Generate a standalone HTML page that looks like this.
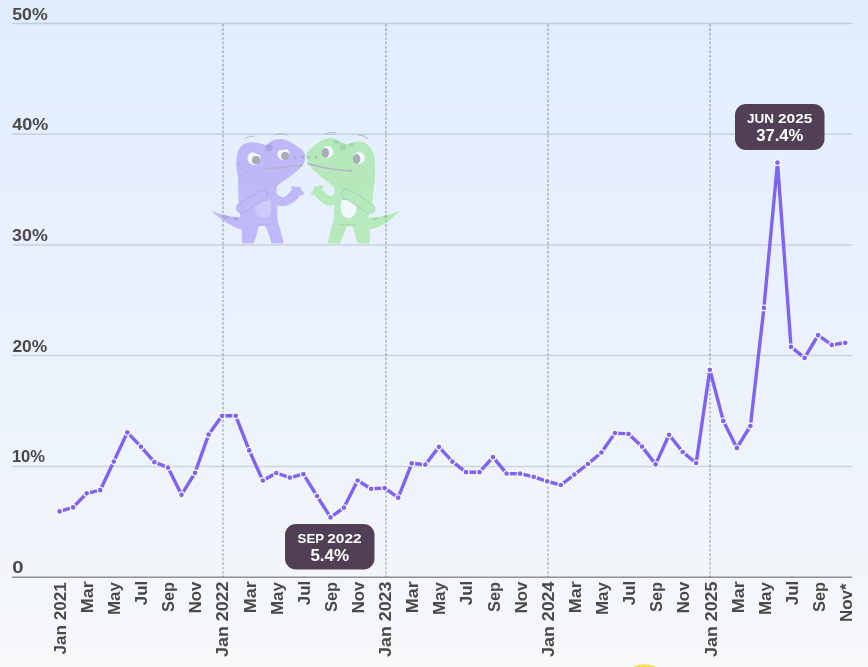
<!DOCTYPE html>
<html lang="en">
<head>
<meta charset="utf-8">
<title>Chart</title>
<style>
html,body{margin:0;padding:0;}
body{width:868px;height:667px;overflow:hidden;background:#f7f8fb;font-family:"Liberation Sans",sans-serif;}
svg{display:block;}
text{font-family:"Liberation Sans",sans-serif;font-weight:700;}
</style>
</head>
<body>
<svg width="868" height="667" viewBox="0 0 868 667">
<g shape-rendering="crispEdges">
<rect x="0" y="0" width="868" height="15" fill="#e0edfd"/>
<rect x="0" y="15" width="868" height="23" fill="#e1edfd"/>
<rect x="0" y="38" width="868" height="7" fill="#e1eefd"/>
<rect x="0" y="45" width="868" height="30" fill="#e2eefd"/>
<rect x="0" y="75" width="868" height="30" fill="#e3eefd"/>
<rect x="0" y="105" width="868" height="8" fill="#e4eefd"/>
<rect x="0" y="113" width="868" height="22" fill="#e4effd"/>
<rect x="0" y="135" width="868" height="30" fill="#e5effd"/>
<rect x="0" y="165" width="868" height="23" fill="#e6effd"/>
<rect x="0" y="188" width="868" height="7" fill="#e6f0fd"/>
<rect x="0" y="195" width="868" height="30" fill="#e7f0fd"/>
<rect x="0" y="225" width="868" height="30" fill="#e8f0fd"/>
<rect x="0" y="255" width="868" height="8" fill="#e9f0fd"/>
<rect x="0" y="263" width="868" height="22" fill="#e9f1fd"/>
<rect x="0" y="285" width="868" height="34" fill="#eaf1fd"/>
<rect x="0" y="319" width="868" height="9" fill="#ebf1fd"/>
<rect x="0" y="328" width="868" height="29" fill="#ebf2fd"/>
<rect x="0" y="357" width="868" height="28" fill="#ecf2fc"/>
<rect x="0" y="385" width="868" height="10" fill="#ecf3fc"/>
<rect x="0" y="395" width="868" height="37" fill="#edf3fc"/>
<rect x="0" y="432" width="868" height="10" fill="#eef3fc"/>
<rect x="0" y="442" width="868" height="28" fill="#eef4fc"/>
<rect x="0" y="470" width="868" height="29" fill="#eff4fb"/>
<rect x="0" y="499" width="868" height="9" fill="#eff5fb"/>
<rect x="0" y="508" width="868" height="29" fill="#f0f5fb"/>
<rect x="0" y="537" width="868" height="13" fill="#f1f5fb"/>
<rect x="0" y="550" width="868" height="7" fill="#f1f6fb"/>
<rect x="0" y="557" width="868" height="20" fill="#f2f6fb"/>
<rect x="0" y="577" width="868" height="20" fill="#f3f6fb"/>
<rect x="0" y="597" width="868" height="20" fill="#f4f7fa"/>
<rect x="0" y="617" width="868" height="20" fill="#f5f7fa"/>
<rect x="0" y="637" width="868" height="7" fill="#f6f7fa"/>
<rect x="0" y="644" width="868" height="13" fill="#f6f8fa"/>
<rect x="0" y="657" width="868" height="10" fill="#f7f8fa"/>
</g>
<circle cx="644.3" cy="690.2" r="26" fill="#f9e04c"/>
<g stroke="#000000" stroke-opacity="0.13" stroke-width="1.5">
<line x1="12" y1="23.5" x2="852.2" y2="23.5"/>
<line x1="12" y1="134.3" x2="852.2" y2="134.3"/>
<line x1="12" y1="245.1" x2="852.2" y2="245.1"/>
<line x1="12" y1="355.5" x2="852.2" y2="355.5"/>
<line x1="12" y1="466.4" x2="852.2" y2="466.4"/>
<line x1="12" y1="577.3" x2="852.2" y2="577.3" stroke-opacity="0.42"/>
</g>
<g stroke="#000000" stroke-opacity="0.19" stroke-width="2.1" stroke-dasharray="2.65 1.8">
<line x1="223.0" y1="23.8" x2="223.0" y2="577"/>
<line x1="386.0" y1="23.8" x2="386.0" y2="577"/>
<line x1="548.0" y1="23.8" x2="548.0" y2="577"/>
<line x1="710.0" y1="23.8" x2="710.0" y2="577"/>
</g>
<g fill="#4a4848" font-size="16.4">
<text x="12.2" y="19.5" textLength="35.45" lengthAdjust="spacingAndGlyphs">50%</text>
<text x="12.2" y="130.3" textLength="36.0" lengthAdjust="spacingAndGlyphs">40%</text>
<text x="12.1" y="241.1" textLength="35.65" lengthAdjust="spacingAndGlyphs">30%</text>
<text x="12.4" y="351.5" textLength="34.8" lengthAdjust="spacingAndGlyphs">20%</text>
<text x="11.9" y="462.4" textLength="33.15" lengthAdjust="spacingAndGlyphs">10%</text>
<text x="12.15" y="573.3" textLength="11.3" lengthAdjust="spacingAndGlyphs">0</text>
</g>
<filter id="gkblur" x="-5%" y="-5%" width="110%" height="110%"><feGaussianBlur stdDeviation="0.35"/></filter>
<g opacity="0.5" filter="url(#gkblur)">
<!-- purple gecko -->
<g id="gk-purple">
<clipPath id="cpp"><path d="M236.3,165 C235.8,152 239.5,143.5 250,142.3 C256,141.8 262,144.5 266.5,145.2 C269.5,142 274,139 280,139 C287,139 294,144 301,149 C305,152 306,157 304.5,161.5 C302,169 292,175 279,184.5 C277,186 276.5,187.5 276.6,189 L276.6,193.3 C279,196.5 282,197.8 284.5,196.8 C287.5,195 290,191.5 292.4,189.5 L300,195.8 C297,200 292.5,203.5 287,205.5 C283,206.5 280,206 277.2,205.3 L277.2,219.3 C279,226 282,234 283.6,243.6 L271.5,243.6 C270,237 267.5,230.5 264.6,225.6 L258.9,226.3 C257.5,232 255.5,238 253.8,243.6 L242.4,243.6 C241.8,239 241.6,234 241.8,229.4 C234,228 224,222 211.3,211 C220,214.5 232,217 240.5,217.5 C238.8,208 238,195 238.2,180 C237.5,175 236.6,170 236.3,165 Z"/></clipPath><path fill="#9883f7" d="M236.3,165 C235.8,152 239.5,143.5 250,142.3 C256,141.8 262,144.5 266.5,145.2 C269.5,142 274,139 280,139 C287,139 294,144 301,149 C305,152 306,157 304.5,161.5 C302,169 292,175 279,184.5 C277,186 276.5,187.5 276.6,189 L276.6,193.3 C279,196.5 282,197.8 284.5,196.8 C287.5,195 290,191.5 292.4,189.5 L300,195.8 C297,200 292.5,203.5 287,205.5 C283,206.5 280,206 277.2,205.3 L277.2,219.3 C279,226 282,234 283.6,243.6 L271.5,243.6 C270,237 267.5,230.5 264.6,225.6 L258.9,226.3 C257.5,232 255.5,238 253.8,243.6 L242.4,243.6 C241.8,239 241.6,234 241.8,229.4 C234,228 224,222 211.3,211 C220,214.5 232,217 240.5,217.5 C238.8,208 238,195 238.2,180 C237.5,175 236.6,170 236.3,165 Z"/>
<circle cx="296.9" cy="191.6" r="4.7" fill="#9883f7"/>
<circle cx="293.3" cy="188" r="2.1" fill="#9883f7"/>
<circle cx="298.9" cy="188.6" r="2.1" fill="#9883f7"/>
<circle cx="301.7" cy="193.2" r="2.1" fill="#9883f7"/>
<rect x="255" y="195.5" width="16.3" height="22.6" rx="8" ry="9" fill="#b9a7fa"/>
<path d="M257,224.6 Q263,226 271,224.2" fill="none" stroke="#7163cc" stroke-width="0.8"/>
<g stroke="#7163cc" fill="#7163cc"><line x1="241.4" y1="208" x2="262.4" y2="195.3" stroke-width="10.4" stroke-linecap="round"/><circle cx="265.6" cy="191.6" r="2.3" stroke="none"/><circle cx="267.1" cy="195" r="2.3" stroke="none"/><circle cx="265.7" cy="198.6" r="2.3" stroke="none"/></g>
<g stroke="#9883f7" fill="#9883f7"><line x1="241.4" y1="208" x2="262.4" y2="195.3" stroke-width="9" stroke-linecap="round"/><circle cx="265.6" cy="191.6" r="1.6" stroke="none"/><circle cx="267.1" cy="195" r="1.6" stroke="none"/><circle cx="265.7" cy="198.6" r="1.6" stroke="none"/></g>
<g clip-path="url(#cpp)"><circle cx="226" cy="216.6" r="2.6" fill="#6a62d0"/><circle cx="236" cy="218" r="2.6" fill="#6a62d0"/><circle cx="269.1" cy="147.7" r="3.5" fill="#6a62d0"/><path d="M261,144.4 Q267,147.6 275,141" stroke="#6a62d0" stroke-width="0.9" fill="none" stroke-opacity="0.7"/></g>
<clipPath id="cpe1"><polygon points="240,148.6 266,156.4 266,170 240,170"/></clipPath><circle cx="254" cy="158.4" r="6.5" fill="#ffffff" clip-path="url(#cpe1)"/>
<circle cx="256" cy="160.2" r="4.1" fill="#6d6870"/>
<clipPath id="cpe2"><polygon points="272,151.39 296,147.69 296,166 272,166"/></clipPath><circle cx="283.4" cy="154" r="6.1" fill="#ffffff" clip-path="url(#cpe2)"/>
<circle cx="285.1" cy="155.9" r="4" fill="#6d6870"/>
<circle cx="295.5" cy="157.7" r="1.2" fill="#6a5aa8"/>
<circle cx="302.6" cy="157.4" r="1.2" fill="#6a5aa8"/>
<path d="M263,168.9 L302.1,165.4" stroke="#85789c" stroke-width="1.7" stroke-linecap="round" fill="none"/>
<path d="M244.4,139.7 Q247.5,136 253.3,136.4" fill="none" stroke="#8878e8" stroke-width="0.9" stroke-linecap="round"/>
<path d="M275.9,134.8 Q281.1,131.6 286.9,135.1" fill="none" stroke="#8878e8" stroke-width="0.9" stroke-linecap="round"/>
<path d="M237.6,161.6 l1.6,3.1 M240.2,166.3 l1.6,3.1 M244.4,171 l1.1,2.6" fill="none" stroke="#6a74d8" stroke-width="1.2" stroke-linecap="round"/>
</g>
<!-- green gecko -->
<g id="gk-green">
<clipPath id="cpg"><path d="M306.3,157 C306.3,152.5 309,149.5 314,146 C319,142 324,138.3 330.4,138 C336,138 341,143 346.2,144.3 C350,144 354,141.3 359.8,141.5 C367,142 373,149 374.8,158 C375.6,165 375.2,172 374.8,178 L372.5,200 C371.5,208 369.5,214 367.8,218 C376,218 388,215.5 399.9,211 C391,221 380,227.5 369.7,229.4 C370,234 369.8,239 369.4,243.6 L357.7,243.6 C356,238 354,232 352.6,226.3 L346.9,226.3 C344.5,232 342,238 339.9,243.6 L327.9,243.6 C329,236 331.5,227 334,219.3 L334.5,204.7 C331,206.3 327.5,206 324.1,204.1 C320,201.5 317,198.5 315.2,195.8 L323.4,190.1 C325,192.5 327.5,195.5 330.4,196.5 C332.5,196 333.8,194 334.8,192 L334.7,188 C332,185 322,178 315,171.5 C310,167 306.5,162 306.3,157 Z"/></clipPath><path fill="#87e37c" d="M306.3,157 C306.3,152.5 309,149.5 314,146 C319,142 324,138.3 330.4,138 C336,138 341,143 346.2,144.3 C350,144 354,141.3 359.8,141.5 C367,142 373,149 374.8,158 C375.6,165 375.2,172 374.8,178 L372.5,200 C371.5,208 369.5,214 367.8,218 C376,218 388,215.5 399.9,211 C391,221 380,227.5 369.7,229.4 C370,234 369.8,239 369.4,243.6 L357.7,243.6 C356,238 354,232 352.6,226.3 L346.9,226.3 C344.5,232 342,238 339.9,243.6 L327.9,243.6 C329,236 331.5,227 334,219.3 L334.5,204.7 C331,206.3 327.5,206 324.1,204.1 C320,201.5 317,198.5 315.2,195.8 L323.4,190.1 C325,192.5 327.5,195.5 330.4,196.5 C332.5,196 333.8,194 334.8,192 L334.7,188 C332,185 322,178 315,171.5 C310,167 306.5,162 306.3,157 Z"/>
<circle cx="317.7" cy="191" r="4.7" fill="#87e37c"/>
<circle cx="315.8" cy="188" r="2.1" fill="#87e37c"/>
<circle cx="321.3" cy="187.2" r="2.1" fill="#87e37c"/>
<circle cx="313.3" cy="193.3" r="2.1" fill="#87e37c"/>
<rect x="340.7" y="196" width="15.8" height="22.1" rx="7.8" ry="9" fill="#ffffff"/>
<path d="M340.5,224.2 Q347,226 354.5,224.6" fill="none" stroke="#5dad62" stroke-width="0.8"/>
<g stroke="#5dad62" fill="#5dad62"><line x1="347.6" y1="194.4" x2="370" y2="208.4" stroke-width="10.4" stroke-linecap="round"/><circle cx="344.5" cy="190.6" r="2.3" stroke="none"/><circle cx="343" cy="194.2" r="2.3" stroke="none"/><circle cx="344.8" cy="197.9" r="2.3" stroke="none"/></g>
<g stroke="#87e37c" fill="#87e37c"><line x1="347.6" y1="194.4" x2="370" y2="208.4" stroke-width="9" stroke-linecap="round"/><circle cx="344.5" cy="190.6" r="1.6" stroke="none"/><circle cx="343" cy="194.2" r="1.6" stroke="none"/><circle cx="344.8" cy="197.9" r="1.6" stroke="none"/></g>
<g clip-path="url(#cpg)"><circle cx="374.8" cy="217.6" r="2.8" fill="#66c268"/><circle cx="385.2" cy="215.6" r="2.6" fill="#66c268"/><circle cx="336.7" cy="141.2" r="3" fill="#66c268"/><circle cx="343" cy="146.9" r="3.8" fill="#66c268"/><circle cx="350.9" cy="143.6" r="3" fill="#66c268"/></g>
<circle cx="327.5" cy="151.9" r="5.8" fill="#ffffff"/>
<ellipse cx="325.3" cy="152.8" rx="3.7" ry="4.9" fill="#6d6a74"/>
<circle cx="359" cy="157.9" r="5.9" fill="#ffffff"/>
<ellipse cx="356.6" cy="158.9" rx="3.7" ry="4.9" fill="#6d6a74"/>
<circle cx="308.9" cy="157.2" r="1.2" fill="#4f8f58"/>
<circle cx="315.9" cy="157.4" r="1.2" fill="#4f8f58"/>
<path d="M308.2,163.7 Q326.2,169.2 351.4,171" stroke="#80798c" stroke-width="1.7" stroke-linecap="round" fill="none"/>
<circle cx="351.3" cy="170.7" r="1.3" fill="#80798c"/>
<path d="M325.2,133.8 Q330.4,130.8 335.7,133" fill="none" stroke="#6f7380" stroke-width="0.9" stroke-linecap="round"/>
<path d="M358.5,135.1 Q364.5,135 367.7,138.5" fill="none" stroke="#6f7380" stroke-width="0.9" stroke-linecap="round"/>
</g>
</g>

<polyline points="59.6,511.4 73.1,507.4 86.7,493.3 100.2,490.2 113.8,461.6 127.3,432.4 140.9,446.7 154.4,462.2 168.0,467.6 181.5,494.8 195.0,472.8 208.6,434.6 222.1,415.8 235.7,415.8 249.2,450.4 262.8,480.5 276.3,473.0 289.9,477.6 303.4,474.2 317.0,496.0 330.5,517.4 344.0,507.6 357.6,480.5 371.1,488.8 384.7,488.1 398.2,497.7 411.8,463.3 425.3,464.7 438.9,446.9 452.4,461.6 466.0,472.2 479.5,472.2 493.0,457.2 506.6,473.6 520.1,473.7 533.7,476.8 547.2,481.3 560.8,485.0 574.3,474.6 587.9,464.0 601.4,452.5 614.9,433.1 628.5,433.9 642.0,446.6 655.6,464.4 669.1,434.8 682.7,452.0 696.2,463.1 709.8,369.8 723.3,420.9 736.9,447.9 750.4,426.0 763.9,307.9 777.5,162.6 791.0,346.9 804.6,357.9 818.1,335.2 831.7,344.9 845.2,342.8" fill="none" stroke="#8063f1" stroke-width="3.4" stroke-linejoin="round" stroke-linecap="round"/>
<g fill="#8063f1" stroke="#ffffff" stroke-width="1.1">
<circle cx="59.6" cy="511.4" r="2.9"/>
<circle cx="73.1" cy="507.4" r="2.9"/>
<circle cx="86.7" cy="493.3" r="2.9"/>
<circle cx="100.2" cy="490.2" r="2.9"/>
<circle cx="113.8" cy="461.6" r="2.9"/>
<circle cx="127.3" cy="432.4" r="2.9"/>
<circle cx="140.9" cy="446.7" r="2.9"/>
<circle cx="154.4" cy="462.2" r="2.9"/>
<circle cx="168.0" cy="467.6" r="2.9"/>
<circle cx="181.5" cy="494.8" r="2.9"/>
<circle cx="195.0" cy="472.8" r="2.9"/>
<circle cx="208.6" cy="434.6" r="2.9"/>
<circle cx="222.1" cy="415.8" r="2.9"/>
<circle cx="235.7" cy="415.8" r="2.9"/>
<circle cx="249.2" cy="450.4" r="2.9"/>
<circle cx="262.8" cy="480.5" r="2.9"/>
<circle cx="276.3" cy="473.0" r="2.9"/>
<circle cx="289.9" cy="477.6" r="2.9"/>
<circle cx="303.4" cy="474.2" r="2.9"/>
<circle cx="317.0" cy="496.0" r="2.9"/>
<circle cx="330.5" cy="517.4" r="2.9"/>
<circle cx="344.0" cy="507.6" r="2.9"/>
<circle cx="357.6" cy="480.5" r="2.9"/>
<circle cx="371.1" cy="488.8" r="2.9"/>
<circle cx="384.7" cy="488.1" r="2.9"/>
<circle cx="398.2" cy="497.7" r="2.9"/>
<circle cx="411.8" cy="463.3" r="2.9"/>
<circle cx="425.3" cy="464.7" r="2.9"/>
<circle cx="438.9" cy="446.9" r="2.9"/>
<circle cx="452.4" cy="461.6" r="2.9"/>
<circle cx="466.0" cy="472.2" r="2.9"/>
<circle cx="479.5" cy="472.2" r="2.9"/>
<circle cx="493.0" cy="457.2" r="2.9"/>
<circle cx="506.6" cy="473.6" r="2.9"/>
<circle cx="520.1" cy="473.7" r="2.9"/>
<circle cx="533.7" cy="476.8" r="2.9"/>
<circle cx="547.2" cy="481.3" r="2.9"/>
<circle cx="560.8" cy="485.0" r="2.9"/>
<circle cx="574.3" cy="474.6" r="2.9"/>
<circle cx="587.9" cy="464.0" r="2.9"/>
<circle cx="601.4" cy="452.5" r="2.9"/>
<circle cx="614.9" cy="433.1" r="2.9"/>
<circle cx="628.5" cy="433.9" r="2.9"/>
<circle cx="642.0" cy="446.6" r="2.9"/>
<circle cx="655.6" cy="464.4" r="2.9"/>
<circle cx="669.1" cy="434.8" r="2.9"/>
<circle cx="682.7" cy="452.0" r="2.9"/>
<circle cx="696.2" cy="463.1" r="2.9"/>
<circle cx="709.8" cy="369.8" r="2.9"/>
<circle cx="723.3" cy="420.9" r="2.9"/>
<circle cx="736.9" cy="447.9" r="2.9"/>
<circle cx="750.4" cy="426.0" r="2.9"/>
<circle cx="763.9" cy="307.9" r="2.9"/>
<circle cx="777.5" cy="162.6" r="2.9"/>
<circle cx="791.0" cy="346.9" r="2.9"/>
<circle cx="804.6" cy="357.9" r="2.9"/>
<circle cx="818.1" cy="335.2" r="2.9"/>
<circle cx="831.7" cy="344.9" r="2.9"/>
<circle cx="845.2" cy="342.8" r="2.9"/>
</g>
<rect x="735" y="104" width="89.5" height="46" rx="11" ry="11" fill="#514055"/>
<text y="123.4" font-size="13" fill="#ffffff"><tspan x="746.9" textLength="27.0" lengthAdjust="spacingAndGlyphs">JUN</tspan> <tspan x="778.0" textLength="34.4" lengthAdjust="spacingAndGlyphs">2025</tspan></text>
<text x="779.8" y="140.8" font-size="16" fill="#ffffff" text-anchor="middle" textLength="47.2" lengthAdjust="spacingAndGlyphs">37.4%</text>
<rect x="285" y="524" width="89.5" height="45.5" rx="11" ry="11" fill="#514055"/>
<text y="543.4" font-size="13" fill="#ffffff"><tspan x="297.5" textLength="26.4" lengthAdjust="spacingAndGlyphs">SEP</tspan> <tspan x="327.2" textLength="34.5" lengthAdjust="spacingAndGlyphs">2022</tspan></text>
<text x="329.8" y="560.8" font-size="16" fill="#ffffff" text-anchor="middle" textLength="38.8" lengthAdjust="spacingAndGlyphs">5.4%</text>
<g fill="#4a4848" font-size="16.6" text-anchor="end">
<text transform="translate(65.7,582.30) rotate(-90)" textLength="72.3" lengthAdjust="spacingAndGlyphs">Jan 2021</text>
<text transform="translate(92.8,581.15) rotate(-90)" textLength="32.15" lengthAdjust="spacingAndGlyphs">Mar</text>
<text transform="translate(119.9,582.10) rotate(-90)" textLength="33.0" lengthAdjust="spacingAndGlyphs">May</text>
<text transform="translate(147.0,580.70) rotate(-90)" textLength="24.45" lengthAdjust="spacingAndGlyphs">Jul</text>
<text transform="translate(174.2,582.00) rotate(-90)" textLength="30.05" lengthAdjust="spacingAndGlyphs">Sep</text>
<text transform="translate(201.3,581.70) rotate(-90)" textLength="31.55" lengthAdjust="spacingAndGlyphs">Nov</text>
<text transform="translate(228.4,581.55) rotate(-90)" textLength="75.4" lengthAdjust="spacingAndGlyphs">Jan 2022</text>
<text transform="translate(255.5,581.15) rotate(-90)" textLength="32.15" lengthAdjust="spacingAndGlyphs">Mar</text>
<text transform="translate(282.6,582.10) rotate(-90)" textLength="33.0" lengthAdjust="spacingAndGlyphs">May</text>
<text transform="translate(309.7,580.70) rotate(-90)" textLength="24.45" lengthAdjust="spacingAndGlyphs">Jul</text>
<text transform="translate(336.9,582.00) rotate(-90)" textLength="30.05" lengthAdjust="spacingAndGlyphs">Sep</text>
<text transform="translate(364.0,581.70) rotate(-90)" textLength="31.55" lengthAdjust="spacingAndGlyphs">Nov</text>
<text transform="translate(391.1,581.55) rotate(-90)" textLength="75.4" lengthAdjust="spacingAndGlyphs">Jan 2023</text>
<text transform="translate(418.2,581.15) rotate(-90)" textLength="32.15" lengthAdjust="spacingAndGlyphs">Mar</text>
<text transform="translate(445.3,582.10) rotate(-90)" textLength="33.0" lengthAdjust="spacingAndGlyphs">May</text>
<text transform="translate(472.4,580.70) rotate(-90)" textLength="24.45" lengthAdjust="spacingAndGlyphs">Jul</text>
<text transform="translate(499.6,582.00) rotate(-90)" textLength="30.05" lengthAdjust="spacingAndGlyphs">Sep</text>
<text transform="translate(526.7,581.70) rotate(-90)" textLength="31.55" lengthAdjust="spacingAndGlyphs">Nov</text>
<text transform="translate(553.8,581.55) rotate(-90)" textLength="75.4" lengthAdjust="spacingAndGlyphs">Jan 2024</text>
<text transform="translate(580.9,581.15) rotate(-90)" textLength="32.15" lengthAdjust="spacingAndGlyphs">Mar</text>
<text transform="translate(608.0,582.10) rotate(-90)" textLength="33.0" lengthAdjust="spacingAndGlyphs">May</text>
<text transform="translate(635.1,580.70) rotate(-90)" textLength="24.45" lengthAdjust="spacingAndGlyphs">Jul</text>
<text transform="translate(662.3,582.00) rotate(-90)" textLength="30.05" lengthAdjust="spacingAndGlyphs">Sep</text>
<text transform="translate(689.4,581.70) rotate(-90)" textLength="31.55" lengthAdjust="spacingAndGlyphs">Nov</text>
<text transform="translate(716.5,581.55) rotate(-90)" textLength="75.4" lengthAdjust="spacingAndGlyphs">Jan 2025</text>
<text transform="translate(743.6,581.15) rotate(-90)" textLength="32.15" lengthAdjust="spacingAndGlyphs">Mar</text>
<text transform="translate(770.7,582.10) rotate(-90)" textLength="33.0" lengthAdjust="spacingAndGlyphs">May</text>
<text transform="translate(797.8,580.70) rotate(-90)" textLength="24.45" lengthAdjust="spacingAndGlyphs">Jul</text>
<text transform="translate(824.9,582.00) rotate(-90)" textLength="30.05" lengthAdjust="spacingAndGlyphs">Sep</text>
<text transform="translate(852.1,583.50) rotate(-90)" textLength="38.5" lengthAdjust="spacingAndGlyphs">Nov*</text>
</g>
</svg>
</body>
</html>
